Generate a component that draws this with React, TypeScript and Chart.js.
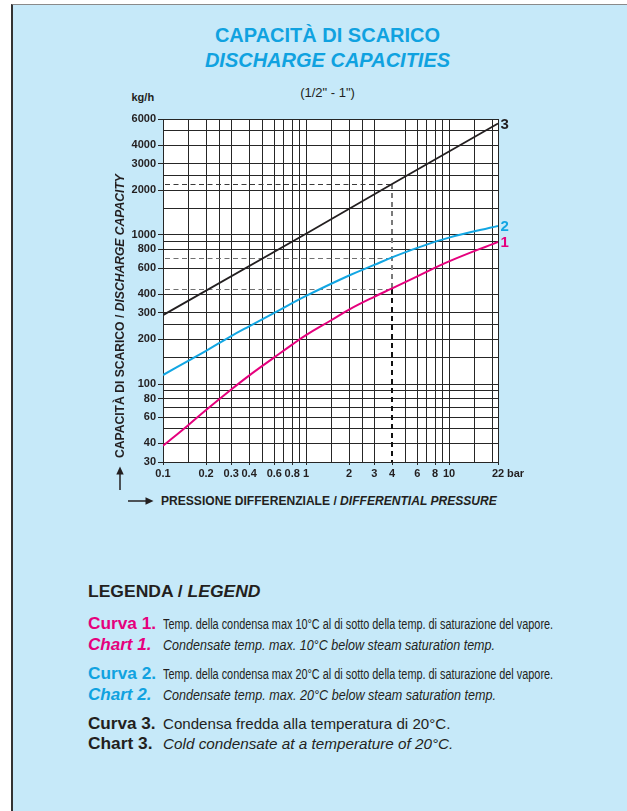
import React, { useEffect, useLayoutEffect, useRef } from 'react';
import { Chart, registerables } from 'chart.js';

Chart.register(...registerables);

// ---------- data ----------
const pressures1 = [0.1, 0.15, 0.2, 0.3, 0.4, 0.6, 0.8, 1, 1.5, 2, 3, 4, 6, 10, 22];
const curve1 = [38.5, 53, 67, 92, 114, 151, 184, 213, 268, 316, 385, 438, 528, 665, 900];

const pressures2 = [0.1, 0.15, 0.2, 0.3, 0.4, 0.6, 1, 2, 3, 4, 6, 10, 22];
const curve2 = [115, 143, 167, 210, 244, 300, 390, 535, 630, 708, 820, 960, 1150];

const pressures3 = [0.1, 1, 4, 22];
const curve3 = [290, 1020, 2200, 5600];

const refPressure = 4;
const refCapacities = [2200, 705, 435];

const xGridValues = [0.1, 0.15, 0.2, 0.25, 0.3, 0.4, 0.5, 0.6, 0.7, 0.8, 0.9, 1, 1.5, 2, 2.5, 3, 4, 5, 6, 7, 8, 9, 10, 15, 20, 22];
const xTickLabels = [0.1, 0.2, 0.3, 0.4, 0.6, 0.8, 1, 2, 3, 4, 6, 8, 10, 22];
const yGridValues = [30, 40, 50, 60, 70, 80, 90, 100, 150, 200, 250, 300, 400, 600, 800, 900, 1000, 1500, 2000, 2500, 3000, 4000, 5000, 6000];
const yTickLabels = [30, 40, 60, 80, 100, 200, 300, 400, 600, 800, 1000, 2000, 3000, 4000, 6000];

// ---------- styles ----------
const FONT = "'Liberation Sans', Arial, Helvetica, sans-serif";
const NARROW = "'Liberation Sans Narrow', 'Liberation Sans', Arial, sans-serif";
const MAGENTA = '#e5007d';
const CYAN = '#12a6e3';
const TITLE_CYAN = '#10a2e0';
const DARK = '#231f20';
const GRID = '#262626';
const BG = '#c6e9f9';

function FitText({ width, style, children }: { width: number; style?: React.CSSProperties; children: React.ReactNode }) {
  const ref = useRef<HTMLSpanElement>(null);
  useLayoutEffect(() => {
    const el = ref.current;
    if (!el) return;
    el.style.transform = 'none';
    const w = el.offsetWidth;
    if (w > 0) el.style.transform = `scaleX(${width / w})`;
  }, [width]);
  return (
    <span ref={ref} style={{ display: 'inline-block', whiteSpace: 'nowrap', transformOrigin: '0 50%', ...style }}>
      {children}
    </span>
  );
}

const decor = {
  id: 'decor',
  beforeDraw(chart: any) {
    const { ctx, chartArea: a } = chart;
    ctx.save();
    ctx.fillStyle = '#ffffff';
    ctx.fillRect(a.left, a.top, a.right - a.left, a.bottom - a.top);
    ctx.restore();
  },
  beforeDatasetsDraw(chart: any) {
    const { ctx, chartArea: a } = chart;
    const x = chart.scales.x;
    const y = chart.scales.y;
    const px = Math.round(x.getPixelForValue(refPressure));
    ctx.save();
    ctx.lineWidth = 1.2;
    ctx.setLineDash([5, 3.5]);
    refCapacities.forEach((v, i) => {
      const py = Math.round(y.getPixelForValue(v)) + 0.5;
      ctx.strokeStyle = i === 0 ? '#3a3a3a' : '#707070';
      ctx.beginPath();
      ctx.moveTo(a.left + 2, py);
      ctx.lineTo(px, py);
      ctx.stroke();
    });
    ctx.lineWidth = 2;
    ctx.setLineDash([5, 4]);
    const yTop = y.getPixelForValue(refCapacities[0]);
    const yMid = y.getPixelForValue(refCapacities[2]);
    ctx.strokeStyle = '#7a7a7a';
    ctx.beginPath();
    ctx.moveTo(px, yTop);
    ctx.lineTo(px, yMid);
    ctx.stroke();
    ctx.strokeStyle = '#111111';
    ctx.beginPath();
    ctx.moveTo(px, yMid);
    ctx.lineTo(px, a.bottom);
    ctx.stroke();
    ctx.restore();
  },
  afterDatasetsDraw(chart: any) {
    const { ctx } = chart;
    ctx.save();
    ctx.font = `bold 15px ${FONT}`;
    ctx.textAlign = 'left';
    ctx.textBaseline = 'middle';
    chart.data.datasets.forEach((ds: any, i: number) => {
      const meta = chart.getDatasetMeta(i);
      const last = meta.data[meta.data.length - 1];
      ctx.fillStyle = ds.borderColor;
      ctx.fillText(ds.label, last.x + 2.5, last.y + 1);
    });
    ctx.restore();
  },
  afterDraw(chart: any) {
    const { ctx } = chart;
    const x = chart.scales.x;
    ctx.save();
    ctx.font = `bold 11px ${FONT}`;
    ctx.fillStyle = DARK;
    ctx.textAlign = 'left';
    ctx.textBaseline = 'middle';
    ctx.fillText('bar', x.getPixelForValue(22) + 9, x.top + 3 + 2 + 6.6);
    ctx.restore();
  },
};

function ChartBox() {
  const canvasRef = useRef<HTMLCanvasElement>(null);
  useEffect(() => {
    const canvas = canvasRef.current;
    if (!canvas) return;
    const chart = new Chart(canvas, {
      type: 'line',
      data: {
        datasets: [
          {
            label: '3',
            data: pressures3.map((p, i) => ({ x: p, y: curve3[i] })),
            borderColor: DARK,
            borderWidth: 1.8,
            pointRadius: 0,
            tension: 0,
          },
          {
            label: '2',
            data: pressures2.map((p, i) => ({ x: p, y: curve2[i] })),
            borderColor: CYAN,
            borderWidth: 2,
            pointRadius: 0,
            tension: 0.4,
          },
          {
            label: '1',
            data: pressures1.map((p, i) => ({ x: p, y: curve1[i] })),
            borderColor: MAGENTA,
            borderWidth: 2,
            pointRadius: 0,
            tension: 0.4,
          },
        ],
      } as any,
      options: {
        responsive: false,
        maintainAspectRatio: false,
        animation: false,
        events: [],
        layout: { padding: { top: 19, right: 32, left: 0, bottom: 0 } },
        plugins: { legend: { display: false }, tooltip: { enabled: false }, title: { display: false } },
        scales: {
          x: {
            type: 'logarithmic',
            min: 0.1,
            max: 22,
            afterBuildTicks: (s: any) => {
              s.ticks = xGridValues.map((v) => ({ value: v }));
            },
            afterFit: (s: any) => {
              s.height = 28;
            },
            ticks: {
              autoSkip: false,
              maxRotation: 0,
              minRotation: 0,
              padding: 2,
              color: DARK,
              font: { family: FONT, size: 11, weight: 'bold' },
              callback: (v: any) => (xTickLabels.includes(Number(v)) ? String(v) : ''),
            },
            grid: {
              color: (c: any) => (c.tick && c.tick.value === refPressure ? 'rgba(0,0,0,0)' : GRID),
              tickColor: (c: any) => (c.tick && xTickLabels.includes(c.tick.value) ? GRID : 'rgba(0,0,0,0)'),
              lineWidth: 1,
              tickLength: 3,
            },
            border: { display: true, color: GRID, width: 1 },
          },
          y: {
            type: 'logarithmic',
            min: 30,
            max: 6000,
            afterBuildTicks: (s: any) => {
              s.ticks = yGridValues.map((v) => ({ value: v }));
            },
            afterFit: (s: any) => {
              s.width = 63;
            },
            ticks: {
              autoSkip: false,
              padding: 2,
              color: DARK,
              font: { family: FONT, size: 11, weight: 'bold' },
              callback: (v: any) => (yTickLabels.includes(Number(v)) ? String(v) : ''),
            },
            grid: {
              color: GRID,
              tickColor: (c: any) => (c.tick && yTickLabels.includes(c.tick.value) ? GRID : 'rgba(0,0,0,0)'),
              lineWidth: 1,
              tickLength: 5,
            },
            border: { display: true, color: GRID, width: 1 },
          },
        },
      } as any,
      plugins: [decor],
    });
    return () => chart.destroy();
  }, []);
  return (
    <div style={{ position: 'absolute', left: 100, top: 100, width: 430, height: 390 }}>
      <canvas ref={canvasRef} width={430} height={390} style={{ width: 430, height: 390, display: 'block' }} />
    </div>
  );
}

type Row = { cy: number; prefix: string; prefixW: number; prefixStyle: React.CSSProperties; desc: string; descW: number; descStyle: React.CSSProperties };

const rows: Row[] = [
  {
    cy: 622.5, prefix: 'Curva 1.', prefixW: 68, prefixStyle: { color: MAGENTA, fontWeight: 'bold', fontSize: 16.5 },
    desc: 'Temp. della condensa max 10°C al di sotto della temp. di saturazione del vapore.', descW: 390,
    descStyle: { fontFamily: NARROW, fontSize: 14, color: DARK },
  },
  {
    cy: 643.5, prefix: 'Chart 1.', prefixW: 63, prefixStyle: { color: MAGENTA, fontWeight: 'bold', fontStyle: 'italic', fontSize: 16.5 },
    desc: 'Condensate temp. max. 10°C below steam saturation temp.', descW: 332,
    descStyle: { fontFamily: NARROW, fontSize: 15, fontStyle: 'italic', color: DARK },
  },
  {
    cy: 672.5, prefix: 'Curva 2.', prefixW: 68, prefixStyle: { color: TITLE_CYAN, fontWeight: 'bold', fontSize: 16.5 },
    desc: 'Temp. della condensa max 20°C al di sotto della temp. di saturazione del vapore.', descW: 390,
    descStyle: { fontFamily: NARROW, fontSize: 14, color: DARK },
  },
  {
    cy: 693.5, prefix: 'Chart 2.', prefixW: 63, prefixStyle: { color: TITLE_CYAN, fontWeight: 'bold', fontStyle: 'italic', fontSize: 16.5 },
    desc: 'Condensate temp. max. 20°C below steam saturation temp.', descW: 333,
    descStyle: { fontFamily: NARROW, fontSize: 15, fontStyle: 'italic', color: DARK },
  },
  {
    cy: 722.5, prefix: 'Curva 3.', prefixW: 67.5, prefixStyle: { color: DARK, fontWeight: 'bold', fontSize: 16.5 },
    desc: 'Condensa fredda alla temperatura di 20°C.', descW: 287,
    descStyle: { fontFamily: FONT, fontSize: 15, color: DARK },
  },
  {
    cy: 743, prefix: 'Chart 3.', prefixW: 64, prefixStyle: { color: DARK, fontWeight: 'bold', fontSize: 16.5 },
    desc: 'Cold condensate at a temperature of 20°C.', descW: 290,
    descStyle: { fontFamily: FONT, fontSize: 15, fontStyle: 'italic', color: DARK },
  },
];

export default function App() {
  return (
    <div style={{ position: 'absolute', left: 0, top: 0, width: 627, height: 811, overflow: 'hidden', background: '#ffffff', fontFamily: FONT }}>
      <div
        style={{
          position: 'absolute', left: 11, top: 4, right: 0, bottom: 0, boxSizing: 'border-box',
          background: BG, borderLeft: '2px solid #333333', borderTop: '1px solid #8a8a8a',
        }}
      />
      {/* titles */}
      <div style={{ position: 'absolute', left: 27.5, width: 600, top: 23.2, lineHeight: '24px', fontSize: 20, fontWeight: 'bold', color: TITLE_CYAN, textAlign: 'center', whiteSpace: 'nowrap' }}>
        CAPACITÀ DI SCARICO
      </div>
      <div style={{ position: 'absolute', left: 27.5, width: 600, top: 47.9, lineHeight: '24px', fontSize: 20, fontWeight: 'bold', fontStyle: 'italic', color: TITLE_CYAN, textAlign: 'center', whiteSpace: 'nowrap' }}>
        DISCHARGE CAPACITIES
      </div>
      <div style={{ position: 'absolute', left: 27.5, width: 600, top: 84.6, lineHeight: '16px', fontSize: 13, color: DARK, textAlign: 'center', whiteSpace: 'nowrap' }}>
        (1/2" - 1")
      </div>
      <div style={{ position: 'absolute', left: 131.5, top: 90, lineHeight: '14px', fontSize: 11, fontWeight: 'bold', color: DARK, whiteSpace: 'nowrap' }}>
        kg/h
      </div>

      <ChartBox />

      {/* y axis title */}
      <div
        style={{
          position: 'absolute', left: 119.7 - 142, top: 316 - 8, width: 284, height: 16, lineHeight: '16px',
          transform: 'rotate(-90deg)', transformOrigin: '50% 50%', whiteSpace: 'nowrap',
          fontSize: 12, fontWeight: 'bold', color: DARK,
        }}
      >
        <FitText width={284}>
          CAPACITÀ DI SCARICO / <i>DISCHARGE CAPACITY</i>
        </FitText>
      </div>
      <svg style={{ position: 'absolute', left: 110, top: 462, overflow: 'visible' }} width={20} height={32}>
        <line x1={10} y1={28} x2={10} y2={9} stroke={DARK} strokeWidth={1.5} />
        <polygon points="10,4.5 6.3,12.5 13.7,12.5" fill={DARK} />
      </svg>

      {/* x axis title */}
      <svg style={{ position: 'absolute', left: 124, top: 494, overflow: 'visible' }} width={34} height={14}>
        <line x1={4} y1={7} x2={24} y2={7} stroke={DARK} strokeWidth={1.5} />
        <polygon points="29.5,7 21.5,3.3 21.5,10.7" fill={DARK} />
      </svg>
      <div style={{ position: 'absolute', left: 160.7, top: 494.1, lineHeight: '14px', fontSize: 12, fontWeight: 'bold', color: DARK, whiteSpace: 'nowrap' }}>
        <FitText width={336}>
          PRESSIONE DIFFERENZIALE / <i>DIFFERENTIAL PRESSURE</i>
        </FitText>
      </div>

      {/* legend */}
      <div style={{ position: 'absolute', left: 88.3, top: 593 - 12, lineHeight: '22px', fontSize: 17, fontWeight: 'bold', color: DARK, whiteSpace: 'nowrap' }}>
        <FitText width={173}>
          LEGENDA / <i>LEGEND</i>
        </FitText>
      </div>
      {rows.map((r, i) => (
        <div key={i} style={{ position: 'absolute', left: 88.3, top: r.cy - 11, lineHeight: '22px', whiteSpace: 'nowrap' }}>
          <span style={{ display: 'inline-block', width: 74.4 }}>
            <FitText width={r.prefixW} style={r.prefixStyle}>{r.prefix}</FitText>
          </span>
          <FitText width={r.descW} style={r.descStyle}>{r.desc}</FitText>
        </div>
      ))}
    </div>
  );
}
